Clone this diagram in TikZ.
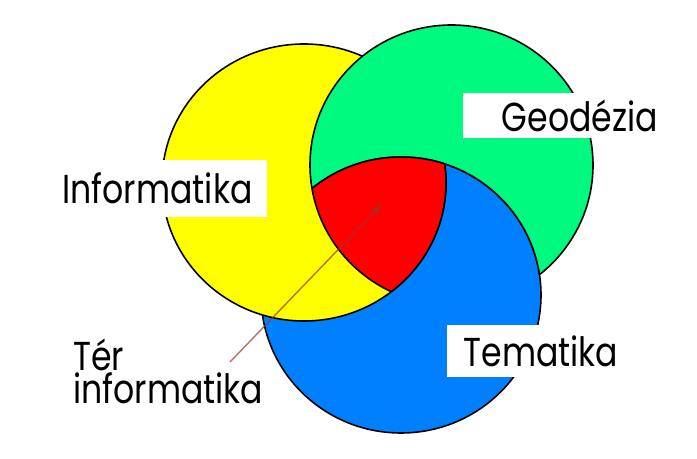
\documentclass[tikz,border=0pt]{standalone}
\usepackage{fontspec}
\setmainfont{Poppins}[FakeStretch=0.82]
\usetikzlibrary{arrows.meta}
\definecolor{infoyellow}{RGB}{255,255,0}
\definecolor{geogreen}{RGB}{0,250,128}
\definecolor{temablue}{RGB}{0,128,255}
\definecolor{terred}{RGB}{255,0,0}
\definecolor{pointer}{RGB}{150,55,40}
\begin{document}
\begin{tikzpicture}[x=0.02cm,y=0.02cm,font=\fontsize{23}{18.7}\selectfont,
  rim/.style={black,line width=0.9pt},
  label box/.style={fill=white,inner sep=0pt}]
  \useasboundingbox (0,0) rectangle (697,459);
  \def\informatika{(304,276.5) ellipse [x radius=142, y radius=138.5]}
  \def\geodezia{(451.5,294) ellipse [x radius=141.5, y radius=140]}
  \def\tematika{(401,164) ellipse [x radius=140, y radius=138]}
  % Blue first, then yellow over it.
  \fill[temablue] \tematika;
  \draw[rim] \tematika;
  \fill[infoyellow] \informatika;
  \draw[rim] \informatika;
  % Green covers yellow, but stays under blue.
  \begin{scope}[even odd rule]
    \clip (0,0) rectangle (697,459) \tematika;
    \fill[geogreen] \geodezia;
    \draw[rim] \geodezia;
  \end{scope}
  \begin{scope}
    \clip \geodezia;
    \draw[rim] \tematika;
  \end{scope}
  % The common part of all three.
  \begin{scope}
    \clip \informatika;
    \clip \geodezia;
    \clip \tematika;
    \fill[terred] \informatika;
  \end{scope}
  \begin{scope}
    \clip \informatika;
    \clip \tematika;
    \draw[rim] \geodezia;
  \end{scope}
  \begin{scope}
    \clip \informatika;
    \clip \geodezia;
    \draw[rim] \tematika;
  \end{scope}
  \begin{scope}
    \clip \geodezia;
    \clip \tematika;
    \draw[rim] \informatika;
  \end{scope}
  \node[label box,minimum width=4.38cm,minimum height=1.14cm] (info) at (157.5,270.5) {Informatika};
  \node[label box,minimum width=4.68cm,minimum height=0.9cm] (geo) at (580,343.5) {Geodézia};
  \node[label box,minimum width=3.76cm,minimum height=1.04cm] (tema) at (541,108) {Tematika};
  \node[inner sep=0pt,anchor=north west,align=left] (ter) at (73,120) {Tér\\informatika};
  \coordinate (tail) at (230,97);
  \coordinate (tip) at (383,256);
  \draw[pointer,opacity=0.7,line width=0.8pt,-{Latex[length=7pt,width=4pt]}] (tail) -- (tip);
\end{tikzpicture}
\end{document}
